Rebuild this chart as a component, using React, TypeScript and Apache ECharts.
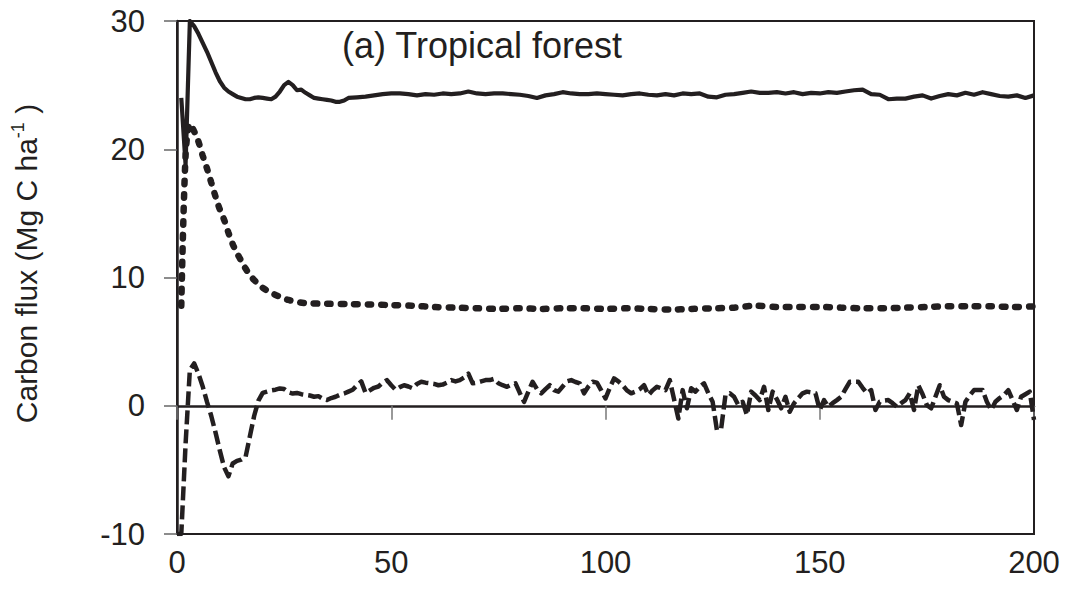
import React, { useEffect, useRef } from "react";
import * as echarts from "echarts";

// ---- Data ----
const xTicks = [0, 50, 100, 150, 200];
const yTicks = [-10, 0, 10, 20, 30];

// Solid line
const solidX = [1, 2, 3, 4, 5, 6, 7, 8, 9, 10, 11, 12, 13, 14, 15, 16, 17, 18, 19, 20, 21, 22, 23, 24, 25, 26, 27, 28, 29, 30, 31, 32, 33, 34, 35, 36, 37, 38, 39, 40, 42, 44, 46, 48, 50, 52, 54, 56, 58, 60, 62, 64, 66, 68, 70, 72, 74, 76, 78, 80, 82, 84, 86, 88, 90, 92, 94, 96, 98, 100, 102, 104, 106, 108, 110, 112, 114, 116, 118, 120, 122, 124, 126, 128, 130, 132, 134, 136, 138, 140, 142, 144, 146, 148, 150, 152, 154, 156, 158, 160, 162, 164, 166, 168, 170, 172, 174, 176, 178, 180, 182, 184, 186, 188, 190, 192, 194, 196, 198, 200];
const solidY = [24, 18.8, 30, 29.6, 29.0, 28.3, 27.6, 26.8, 26.0, 25.3, 24.8, 24.5, 24.3, 24.1, 24.0, 23.9, 23.9, 24.0, 24.05, 24.0, 23.95, 23.9, 24.1, 24.5, 25.0, 25.25, 25.0, 24.6, 24.65, 24.4, 24.2, 24.0, 23.95, 23.9, 23.85, 23.8, 23.7, 23.7, 23.8, 24.0, 24.05, 24.1, 24.2, 24.3, 24.35, 24.35, 24.3, 24.2, 24.3, 24.25, 24.35, 24.3, 24.35, 24.5, 24.35, 24.3, 24.35, 24.35, 24.3, 24.25, 24.15, 24.0, 24.2, 24.3, 24.45, 24.35, 24.3, 24.3, 24.35, 24.3, 24.25, 24.2, 24.3, 24.35, 24.25, 24.2, 24.3, 24.2, 24.35, 24.3, 24.35, 24.1, 24.05, 24.25, 24.3, 24.4, 24.5, 24.4, 24.4, 24.45, 24.35, 24.45, 24.3, 24.4, 24.35, 24.45, 24.4, 24.5, 24.6, 24.65, 24.3, 24.25, 23.9, 23.95, 23.95, 24.1, 24.2, 23.95, 24.15, 24.3, 24.2, 24.4, 24.25, 24.45, 24.3, 24.15, 24.1, 24.2, 24.0, 24.2];

// Dotted line
const dottedX = [1, 2, 3, 4, 5, 6, 7, 8, 9, 10, 11, 12, 13, 14, 15, 16, 17, 18, 19, 20, 22, 24, 26, 28, 30, 35, 40, 45, 50, 55, 60, 65, 70, 75, 80, 85, 90, 95, 100, 105, 110, 115, 120, 125, 130, 135, 140, 145, 150, 155, 160, 165, 170, 175, 180, 185, 190, 195, 200];
const dottedY = [7.8, 19.5, 22.0, 21.4, 20.6, 19.5, 18.5, 17.4, 16.3, 15.3, 14.5, 13.5, 12.6, 11.9, 11.3, 10.7, 10.2, 9.8, 9.5, 9.2, 8.8, 8.5, 8.25, 8.1, 8.0, 7.95, 7.93, 7.9, 7.85, 7.8, 7.7, 7.65, 7.6, 7.55, 7.6, 7.55, 7.6, 7.6, 7.55, 7.6, 7.55, 7.5, 7.55, 7.6, 7.65, 7.8, 7.7, 7.7, 7.7, 7.65, 7.6, 7.6, 7.65, 7.7, 7.75, 7.75, 7.75, 7.7, 7.75];

// Dashed line (one value per year, 0..200)
const dashedY = [-10, -10, -3, 2.8, 3.3, 2.5, 1.5, 0.3, -0.8, -2.1, -3.5, -4.8, -5.5, -4.5, -4.3, -4.2, -4.0, -2.4, -0.8, 0.4, 1.0, 1.1, 1.2, 1.25, 1.35, 1.3, 1.05, 0.95, 1.0, 0.9, 0.85, 0.8, 0.7, 0.75, 0.55, 0.45, 0.6, 0.7, 0.85, 0.95, 1.1, 1.25, 1.6, 1.9, 1.0, 1.2, 1.4, 1.5, 1.8, 2.0, 1.6, 1.25, 1.45, 1.6, 1.5, 1.36, 1.7, 1.87, 1.8, 1.75, 1.7, 1.6, 1.65, 1.8, 2.0, 1.9, 2.0, 2.2, 2.5, 1.75, 1.8, 1.9, 2.0, 2.0, 2.1, 1.75, 1.6, 1.48, 1.65, 1.75, 1.0, 0.3, 1.1, 1.87, 1.3, 0.97, 1.3, 1.6, 1.22, 1.1, 1.5, 1.9, 2.0, 1.85, 1.75, 0.97, 1.5, 1.87, 1.8, 1.2, 0.57, 1.4, 2.13, 1.9, 1.6, 1.2, 0.97, 1.1, 1.3, 1.6, 0.83, 1.2, 1.48, 1.36, 1.22, 2.0, 0.5, -1.0, 1.22, -0.2, 1.36, 1.1, 1.5, 1.75, 0.97, 0.31, -1.9, -1.76, 0.83, 0.97, 0.7, 0.05, 0.31, -0.72, 1.1, 0.8, 0.44, 1.48, -0.33, 1.1, 0.5, -0.2, 0.7, -0.47, 0.19, 0.6, 0.97, 1.1, 1.05, 0.97, -0.33, 0.44, -0.08, 0.2, 0.44, 0.7, 1.3, 1.87, 1.87, 1.87, 1.4, 0.97, 1.22, -0.33, 0.31, 0.4, 0.44, 0.2, -0.08, 0.2, 0.44, 0.97, -0.33, 1.6, 0.9, 0.05, -0.2, 0.7, 1.6, 0.7, 0.44, 0.3, 0.19, -1.5, 0.31, 0.8, 1.22, 1.22, 1.22, 0.31, -0.33, 0.31, 0.6, 0.83, 1.22, 0.44, -0.33, 0.7, 0.9, 1.1, -1.1];

const titleText = "(a) Tropical forest";
const yAxisName = "{n|Carbon flux (Mg C ha}{sup|-1}{n| )}";

const INK = "#231f20";
const FONT = "'Liberation Sans', Arial, sans-serif";

function pairs(xs: number[], ys: number[]) {
  return xs.map((x, i) => [x, ys[i]]);
}

export default function App() {
  const ref = useRef<HTMLDivElement>(null);
  useEffect(() => {
    if (!ref.current) return;
    const chart = echarts.init(ref.current, null, { renderer: "svg" });
    const dashedData = dashedY.map((v, i) => [i, v]);
    chart.setOption({
      animation: false,
      backgroundColor: "#ffffff",
      textStyle: { fontFamily: FONT, color: INK },
      title: {
        text: titleText,
        left: 342,
        top: 27,
        padding: 0,
        textStyle: { fontSize: 36, fontWeight: "normal", color: INK, fontFamily: FONT },
      },
      grid: {
        left: 177,
        right: 34,
        top: 21,
        bottom: 55,
        show: true,
        borderColor: INK,
        borderWidth: 2,
        backgroundColor: "transparent",
      },
      xAxis: [
        {
          type: "value",
          min: xTicks[0],
          max: xTicks[xTicks.length - 1],
          interval: 50,
          position: "bottom",
          axisLine: { show: false, onZero: false },
          axisTick: { show: false },
          splitLine: { show: false },
          axisLabel: { fontSize: 31, color: INK, margin: 13, fontFamily: FONT },
        },
        {
          type: "value",
          min: xTicks[0],
          max: xTicks[xTicks.length - 1],
          interval: 50,
          position: "bottom",
          axisLine: { show: true, onZero: true, onZeroAxisIndex: 0, lineStyle: { color: INK, width: 2.5 } },
          axisTick: { show: true, length: 14, lineStyle: { color: "#777", width: 1.5 } },
          axisLabel: { show: false },
          splitLine: { show: false },
        },
      ],
      yAxis: {
        type: "value",
        min: yTicks[0],
        max: yTicks[yTicks.length - 1],
        interval: 10,
        axisLine: { show: true, onZero: false, lineStyle: { color: INK, width: 2.5 } },
        axisTick: { show: true, length: 13, lineStyle: { color: "#666", width: 1.5 } },
        axisLabel: { fontSize: 31, color: INK, margin: 32, fontFamily: FONT },
        splitLine: { show: false },
        name: yAxisName,
        nameLocation: "middle",
        nameGap: 134,
        nameRotate: 90,
        nameTextStyle: {
          fontSize: 30,
          color: INK,
          fontFamily: FONT,
          padding: [0, 0, 0, 28],
          rich: {
            n: { fontSize: 30, color: INK, fontFamily: FONT, lineHeight: 34 },
            sup: { fontSize: 18, color: INK, fontFamily: FONT, verticalAlign: "top", lineHeight: 34 },
          },
        },
      },
      series: [
        {
          type: "line",
          xAxisIndex: 0,
          data: pairs(solidX, solidY),
          showSymbol: false,
          symbol: "none",
          lineStyle: { color: INK, width: 4.2, join: "round" },
        },
        {
          type: "line",
          xAxisIndex: 0,
          data: pairs(dottedX, dottedY),
          showSymbol: false,
          symbol: "none",
          smooth: 0.3,
          lineStyle: { color: INK, width: 6.5, type: [3.5, 10], cap: "round" },
        },
        {
          type: "line",
          xAxisIndex: 0,
          data: dashedData,
          showSymbol: false,
          symbol: "none",
          lineStyle: { color: INK, width: 4.5, type: [14, 5], join: "round" },
        },
      ],
    });
    return () => chart.dispose();
  }, []);
  return (
    <div
      ref={ref}
      style={{ position: "absolute", left: 0, top: 0, width: 1068, height: 589 }}
    />
  );
}
